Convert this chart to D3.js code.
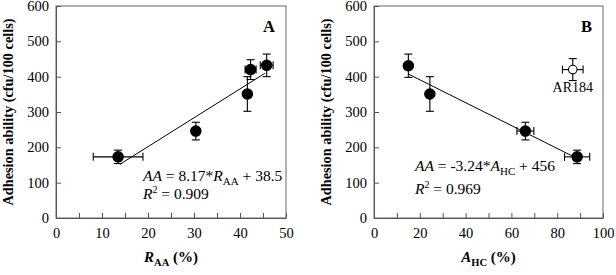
<!DOCTYPE html>
<html>
<head>
<meta charset="utf-8">
<script src="https://cdn.jsdelivr.net/npm/d3@7"></script>
<style>
 body { margin: 0; background: #fff; }
 .axis path, .axis line { stroke: #555; }
</style>
</head>
<body>
<svg id="graph" width="616" height="275"></svg>
<script>
// panel A: R_AA (%) vs adhesion ability
var raaX = [13.5, 30.4, 41.6, 42.3, 45.8];
var raaXErr = [5.4, 0, 0, 1.2, 1.4];
var aaA = [173, 246, 351, 420, 432];
var aaAErr = [19, 25, 49, 28, 32];
var fitA = [8.17, 38.5], fitARange = [13.9, 45.4];

// panel B: A_HC (%) vs adhesion ability (AR184 plotted open, not in fit)
var ahcX = [15.0, 24.4, 66.1, 88.7];
var ahcXErr = [0, 0, 3.7, 5.5];
var aaB = [431, 351, 246, 173];
var aaBErr = [33, 49, 25, 19];
var ar184 = {x: 86.8, xErr: 4.5, y: 420, yErr: 31};
var fitB = [-3.24, 456], fitBRange = [14.9, 89];

var yTicks = [0, 100, 200, 300, 400, 500, 600];
var xTicksA = [0, 5, 10, 15, 20, 25, 30, 35, 40, 45, 50];
var xTicksB = [0, 10, 20, 30, 40, 50, 60, 70, 80, 90, 100];

var serif = '"Liberation Serif", "Times New Roman", "DejaVu Serif", serif';

var svg = d3.select("#graph").attr("font-family", serif);

function panel(o) {
 var g = svg.append("g");
 var x = d3.scaleLinear().domain(o.xDomain).range([o.left, o.right]);
 var y = d3.scaleLinear().domain([0, 600]).range([o.bottom, o.top]);

 // frame
 g.append("rect")
 .attr("x", o.left).attr("y", o.top)
 .attr("width", o.right - o.left).attr("height", o.bottom - o.top)
 .attr("fill", "none").attr("stroke", "#666");

 g.append("g").attr("class", "axis")
 .attr("transform", `translate(0,${o.bottom})`)
 .call(d3.axisBottom(x).tickValues(o.xTicks).tickSizeInner(-5).tickSizeOuter(0).tickPadding(10)
 .tickFormat(d => d % o.labelStep == 0 ? d : ""))
 .attr("font-family", serif).attr("font-size", 14.5);

 g.append("g").attr("class", "axis")
 .attr("transform", `translate(${o.left},0)`)
 .call(d3.axisLeft(y).tickValues(yTicks).tickSizeInner(-5).tickSizeOuter(0).tickPadding(7))
 .attr("font-family", serif).attr("font-size", 14.5);

 // regression line
 g.append("line")
 .attr("x1", x(o.range[0])).attr("y1", y(o.fit[0] * o.range[0] + o.fit[1]))
 .attr("x2", x(o.range[1])).attr("y2", y(o.fit[0] * o.range[1] + o.fit[1]))
 .attr("stroke", "#000").attr("stroke-width", 1);

 var pts = o.xs.map((v, i) => ({x: v, xe: o.xe[i], y: o.ys[i], ye: o.ye[i], open: false}));
 if (o.extra) pts.push({x: o.extra.x, xe: o.extra.xErr, y: o.extra.y, ye: o.extra.yErr, open: true});

 var cap = 4;
 pts.forEach(function(p) {
 var e = g.append("g").attr("stroke", "#000").attr("stroke-width", 1.1);
 e.append("line").attr("x1", x(p.x)).attr("x2", x(p.x)).attr("y1", y(p.y - p.ye)).attr("y2", y(p.y + p.ye));
 e.append("line").attr("x1", x(p.x) - cap).attr("x2", x(p.x) + cap).attr("y1", y(p.y - p.ye)).attr("y2", y(p.y - p.ye));
 e.append("line").attr("x1", x(p.x) - cap).attr("x2", x(p.x) + cap).attr("y1", y(p.y + p.ye)).attr("y2", y(p.y + p.ye));
 if (p.xe > 0) {
 e.append("line").attr("x1", x(p.x - p.xe)).attr("x2", x(p.x + p.xe)).attr("y1", y(p.y)).attr("y2", y(p.y));
 e.append("line").attr("x1", x(p.x - p.xe)).attr("x2", x(p.x - p.xe)).attr("y1", y(p.y) - cap).attr("y2", y(p.y) + cap);
 e.append("line").attr("x1", x(p.x + p.xe)).attr("x2", x(p.x + p.xe)).attr("y1", y(p.y) - cap).attr("y2", y(p.y) + cap);
 }
 g.append("circle")
 .attr("cx", x(p.x)).attr("cy", y(p.y))
 .attr("r", p.open ? 4.3 : 5.2)
 .attr("fill", p.open ? "#fff" : "#000")
 .attr("stroke", "#000").attr("stroke-width", 1.1);
 });

 // panel letter
 g.append("text").attr("x", o.right - 11).attr("y", 32)
 .attr("text-anchor", "end").attr("font-weight", "bold").attr("font-size", "16.5px")
 .text(o.letter);

 // y label
 g.append("text")
 .attr("transform", `translate(${o.left - 43},${(o.top + o.bottom) / 2}) rotate(-90)`)
 .attr("text-anchor", "middle").attr("font-weight", "bold").attr("font-size", "14.3px")
 .text("Adhesion ability (cfu/100 cells)");

 // x label
 var xl = g.append("text")
 .attr("x", (o.left + o.right) / 2).attr("y", 262)
 .attr("text-anchor", "middle").attr("font-weight", "bold").attr("font-size", "15px");
 xl.append("tspan").attr("font-style", "italic").text(o.xVar);
 xl.append("tspan").attr("font-size", "10.5px").attr("dy", 4).text(o.xSub);
 xl.append("tspan").attr("dy", -4).text(" (%)");

 // equation
 var eq = g.append("text").attr("x", o.eqX).attr("y", o.eqY).attr("font-size", "15.5px");
 eq.append("tspan").attr("font-style", "italic").text("AA");
 eq.append("tspan").text(" = " + o.fit[0] + "*");
 eq.append("tspan").attr("font-style", "italic").text(o.xVar);
 eq.append("tspan").attr("font-size", "11px").attr("dy", 4).text(o.xSub);
 eq.append("tspan").attr("dy", -4).text(" + " + o.fit[1]);

 var r2 = g.append("text").attr("x", o.eqX).attr("y", o.eqY + o.r2Gap).attr("font-size", "15.5px");
 r2.append("tspan").attr("font-style", "italic").text("R");
 r2.append("tspan").attr("font-size", "10px").attr("dy", -6).text("2");
 r2.append("tspan").attr("dy", 6).text(" = " + o.r2);

 return {g: g, x: x, y: y};
}

panel({
 left: 56, right: 286, top: 6, bottom: 218,
 xDomain: [0, 50], xTicks: xTicksA, labelStep: 10,
 xs: raaX, xe: raaXErr, ys: aaA, ye: aaAErr,
 fit: fitA, range: fitARange,
 letter: "A", xVar: "R", xSub: "AA",
 eqX: 143, eqY: 181, r2Gap: 18, r2: "0.909"
});

var pB = panel({
 left: 374, right: 603, top: 6, bottom: 218,
 xDomain: [0, 100], xTicks: xTicksB, labelStep: 20,
 xs: ahcX, xe: ahcXErr, ys: aaB, ye: aaBErr, extra: ar184,
 fit: fitB, range: fitBRange,
 letter: "B", xVar: "A", xSub: "HC",
 eqX: 415, eqY: 171, r2Gap: 23, r2: "0.969"
});

pB.g.append("text")
 .attr("x", pB.x(ar184.x)).attr("y", pB.y(ar184.y) + 22)
 .attr("text-anchor", "middle").attr("font-size", "14px")
 .text("AR184");
</script>
</body>
</html>
